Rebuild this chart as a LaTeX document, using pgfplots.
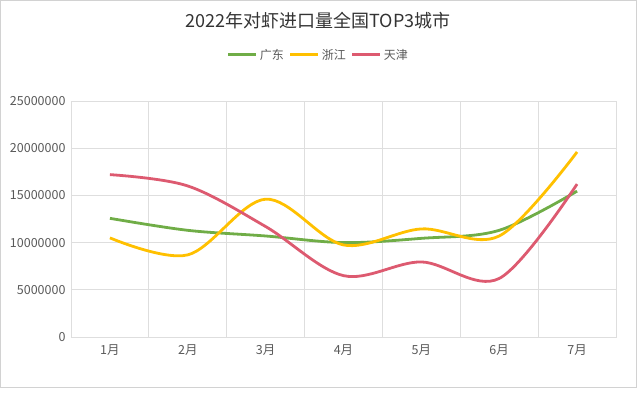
\documentclass[border=0pt]{standalone}
\usepackage{fontspec}
\setmainfont{Noto Sans CJK SC}
\usepackage{pgfplots}
\pgfplotsset{compat=1.18}
\definecolor{cgreen}{HTML}{70AD47}
\definecolor{cyellow}{HTML}{FFC000}
\definecolor{cred}{HTML}{DD5A70}
\definecolor{cgrid}{HTML}{DEDEDE}
\definecolor{ctick}{HTML}{595959}
\definecolor{ctitle}{HTML}{333333}
\begin{document}
\begin{tikzpicture}
\path[use as bounding box] (-71pt,-61pt) rectangle (567pt,337pt);
\begin{axis}[
  scale only axis, width=545pt, height=236pt,
  at={(0pt,0pt)}, anchor=south west,
  xmin=-0.5, xmax=6.5, ymin=0, ymax=25000000,
  xtick={0,1,2,3,4,5,6},
  xticklabels={1月,2月,3月,4月,5月,6月,7月},
  minor xtick={-0.5,0.5,1.5,2.5,3.5,4.5,5.5,6.5},
  ytick={0,5000000,10000000,15000000,20000000,25000000},
  scaled y ticks=false,
  /pgf/number format/assume math mode=true,
  yticklabel style={/pgf/number format/fixed,/pgf/number format/1000 sep={}},
  ticklabel style={font=\fontsize{12.5}{14}\selectfont, text=ctick},
  xticklabel style={yshift=-4pt},
  yticklabel style={xshift=-2pt},
  major tick length=0pt, minor tick length=0pt,
  xmajorgrids=false, xminorgrids=true, ymajorgrids=true,
  grid style={cgrid, line width=0.8pt},
  minor grid style={cgrid, line width=0.8pt},
  axis line style={cgrid, line width=0.8pt},
  legend style={at={(0.454,1.195)}, anchor=center, draw=none, fill=none,
    legend columns=3, font=\fontsize{12}{14}\selectfont, text=ctick,
    /tikz/every even column/.append style={column sep=3pt},
    inner sep=0pt},
  legend image code/.code={\draw[#1, line width=3pt] (0pt,0pt) -- (28pt,0pt);},
  every axis plot/.append style={line width=2.8pt, smooth, tension=0.55, no markers},
]
\addplot[cgreen] coordinates {(0,12570000) (1,11300000) (2,10700000) (3,10000000) (4,10450000) (5,11300000) (6,15450000)};
\addlegendentry{广东}
\addplot[cyellow] coordinates {(0,10500000) (1,8700000) (2,14600000) (3,9750000) (4,11450000) (5,10700000) (6,19600000)};
\addlegendentry{浙江}
\addplot[cred] coordinates {(0,17200000) (1,16000000) (2,11700000) (3,6500000) (4,7950000) (5,6200000) (6,16200000)};
\addlegendentry{天津}
\end{axis}
\node[font=\fontsize{18}{20}\selectfont, text=ctitle] at (247pt,316pt) {2022年对虾进口量全国TOP3城市};
\draw[gray!35, line width=1pt] (-70pt,-51pt) rectangle (565pt,336pt);
\end{tikzpicture}
\end{document}
